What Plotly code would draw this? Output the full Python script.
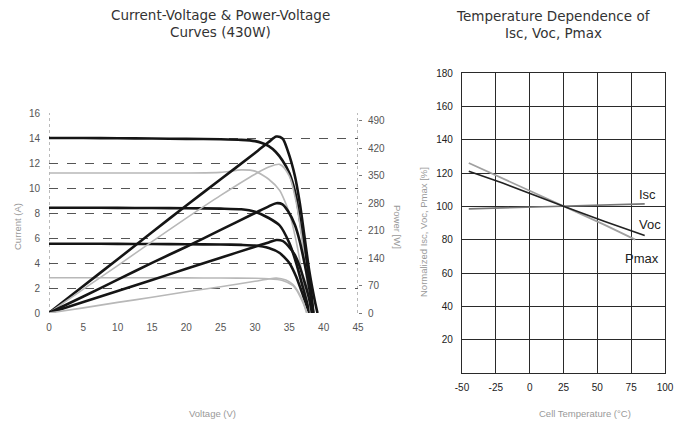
import plotly.graph_objects as go

# ---------------- Left chart: I-V and P-V curves ----------------
# Irradiance levels (W/m2) and colours of the curves
levels = ["1000", "800", "600", "400", "200"]
level_colors = ["#151515", "#b8b8b8", "#151515", "#151515", "#b8b8b8"]

# Current-voltage curves (A)
iv_v_1000 = [0, 5, 10, 15, 20, 25, 28, 30, 31, 32, 33, 34, 35, 36, 36.7, 37.5, 38.2, 38.5]
iv_i_1000 = [14.0, 14.0, 13.98, 13.96, 13.93, 13.9, 13.85, 13.75, 13.6, 13.35, 12.9, 12.2, 11.2, 9.3, 6.9, 4.2, 1.6, 0]
iv_v_800 = [0, 5, 10, 15, 20, 25, 28, 30, 32, 33.6, 35, 36.2, 37.2, 38.0]
iv_i_800 = [11.2, 11.2, 11.2, 11.2, 11.2, 11.25, 11.45, 11.35, 10.7, 9.8, 8.0, 5.2, 2.0, 0]
iv_v_600 = [0, 5, 10, 15, 20, 25, 28, 30, 32, 33.6, 35, 36, 37, 37.7, 38.2]
iv_i_600 = [8.42, 8.42, 8.41, 8.4, 8.38, 8.35, 8.3, 8.1, 7.6, 7.0, 5.6, 4.0, 2.0, 0.6, 0]
iv_v_400 = [0, 5, 10, 15, 20, 25, 28, 30, 32, 33.6, 35, 36, 37, 37.9]
iv_i_400 = [5.54, 5.54, 5.53, 5.52, 5.5, 5.48, 5.45, 5.4, 5.2, 4.8, 4.0, 2.9, 1.4, 0]
iv_v_200 = [0, 5, 10, 15, 20, 25, 30, 32, 34, 35.5, 36.3, 37, 37.6]
iv_i_200 = [2.82, 2.82, 2.82, 2.82, 2.81, 2.8, 2.78, 2.74, 2.6, 2.2, 1.6, 0.8, 0]

# Power-voltage curves (W)
pv_v_1000 = [0, 5, 10, 15, 20, 25, 30, 32, 33.1, 34, 34.8, 35.8, 36.5, 37.2, 37.9, 38.7, 39.1]
pv_p_1000 = [0, 69, 137, 206, 274, 341, 408, 436, 450, 445, 412, 350, 283, 196, 108, 32, 0]
pv_v_800 = [0, 5, 10, 15, 20, 25, 30, 32, 33.6, 35, 36, 37, 37.7, 38.1]
pv_p_800 = [0, 61, 121, 182, 242, 300, 354, 372, 379, 349, 282, 166, 57, 0]
pv_v_600 = [0, 5, 10, 15, 20, 25, 30, 32, 33.1, 34, 34.8, 35.8, 36.5, 37.2, 37.9, 38.5]
pv_p_600 = [0, 42, 85, 128, 169, 212, 255, 272, 280, 277, 260, 225, 184, 128, 64, 0]
pv_v_400 = [0, 5, 10, 15, 20, 25, 30, 32, 33.1, 34, 34.8, 35.8, 36.5, 37.2, 37.9, 38.3]
pv_p_400 = [0, 28, 56, 84, 113, 141, 169, 180, 186, 184, 172, 148, 119, 80, 35, 0]
pv_v_200 = [0, 5, 10, 15, 20, 25, 30, 32, 33.1, 34.5, 35.5, 36.3, 37, 37.5]
pv_p_200 = [0, 13, 27, 40, 54, 67, 81, 87, 89, 84, 73, 54, 29, 0]

current_ticks = [0, 2, 4, 6, 8, 10, 12, 14, 16]
power_ticks = [0, 70, 140, 210, 280, 350, 420, 490]
voltage_ticks = [0, 5, 10, 15, 20, 25, 30, 35, 40, 45]

# ---------------- Right chart: temperature dependence ----------------
temp_isc = [-45, 25, 85]
val_isc = [98.5, 100, 101.5]
temp_voc = [-45, -20, 25, 55, 85]
val_voc = [121, 114, 100, 91, 82.5]
temp_pmax = [-45, -30, 25, 55, 78]
val_pmax = [126, 120.5, 100, 89, 80]
temp_ticks = [-50, -25, 0, 25, 50, 75, 100]
temp_tick_text = ["-50", "-25", "0", "25", "50", "75", "100"]
norm_ticks = [20, 40, 60, 80, 100, 120, 140, 160, 180]

fig = go.Figure()

iv_sets = [(iv_v_1000, iv_i_1000), (iv_v_800, iv_i_800), (iv_v_600, iv_i_600),
           (iv_v_400, iv_i_400), (iv_v_200, iv_i_200)]
pv_sets = [(pv_v_1000, pv_p_1000), (pv_v_800, pv_p_800), (pv_v_600, pv_p_600),
           (pv_v_400, pv_p_400), (pv_v_200, pv_p_200)]

for lvl, col, (vv, ii) in zip(levels, level_colors, iv_sets):
    w = 2.6 if col == "#151515" else 1.6
    fig.add_trace(go.Scatter(x=vv, y=ii, mode="lines", line=dict(color=col, width=w, shape="spline", smoothing=0.6),
                             xaxis="x", yaxis="y", name="I-V " + lvl, showlegend=False))
for lvl, col, (vv, pp) in zip(levels, level_colors, pv_sets):
    w = 2.6 if col == "#151515" else 1.6
    fig.add_trace(go.Scatter(x=vv, y=pp, mode="lines", line=dict(color=col, width=w, shape="spline", smoothing=0.8),
                             xaxis="x", yaxis="y2", name="P-V " + lvl, showlegend=False))

fig.add_trace(go.Scatter(x=temp_pmax, y=val_pmax, mode="lines", line=dict(color="#a0a0a0", width=1.8),
                         xaxis="x2", yaxis="y3", name="Pmax", showlegend=False))
fig.add_trace(go.Scatter(x=temp_isc, y=val_isc, mode="lines", line=dict(color="#777777", width=1.6),
                         xaxis="x2", yaxis="y3", name="Isc", showlegend=False))
fig.add_trace(go.Scatter(x=temp_voc, y=val_voc, mode="lines", line=dict(color="#222222", width=1.6),
                         xaxis="x2", yaxis="y3", name="Voc", showlegend=False))

# the page body adds an 8 px margin; the figure is sized to fill the 683x429 window
OFF = 8
W, H = 683 - OFF, 429 - OFF
def px(x):
    return (x - OFF) / W
def py(y):
    return 1 - (y - OFF) / H

tick_font = dict(family="Liberation Sans", size=10, color="#555555")
tick_font_r = dict(family="Liberation Sans Narrow, Liberation Sans", size=10, color="#222222")

fig.update_layout(
    width=W, height=H,
    margin=dict(l=0, r=0, t=0, b=0, pad=0, autoexpand=False),
    paper_bgcolor="white", plot_bgcolor="white",
    showlegend=False,
    xaxis=dict(domain=[px(49), px(358)], range=[0, 45], tickvals=voltage_ticks,
               showgrid=False, zeroline=False, showline=False, ticks="", automargin=False,
               tickfont=tick_font, ticklabelstandoff=7, anchor="y"),
    yaxis=dict(domain=[py(313), py(113)], range=[0, 16], tickvals=current_ticks,
               showgrid=True, gridcolor="#555555", gridwidth=1, griddash="dash",
               zeroline=False, showline=False, ticks="", tickfont=tick_font, automargin=False,
               ticklabelstandoff=8, anchor="x"),
    yaxis2=dict(overlaying="y", side="right", range=[0, 510], tickvals=power_ticks,
                showgrid=False, zeroline=False, showline=False, ticks="outside", automargin=False,
                ticklen=3, tickcolor="#777777", tickfont=tick_font, anchor="x",
                ticklabelstandoff=4),
    xaxis2=dict(domain=[px(462), px(665)], range=[-50, 100], tickvals=temp_ticks,
                ticktext=temp_tick_text,
                showgrid=True, gridcolor="#2a2a2a", gridwidth=1.2, automargin=False,
                zeroline=False, showline=True, mirror=True, linecolor="#2a2a2a", linewidth=1.2,
                ticks="", tickfont=tick_font_r, ticklabelstandoff=5, anchor="y3"),
    yaxis3=dict(domain=[py(373), py(73)], range=[0, 180], tickvals=norm_ticks,
                showgrid=True, gridcolor="#2a2a2a", gridwidth=1.2, automargin=False,
                zeroline=False, showline=True, mirror=True, linecolor="#2a2a2a", linewidth=1.2,
                ticks="", tickfont=tick_font_r, ticklabelstandoff=6, anchor="x2"),
)

# dotted frame edges of the left chart
for xv in [0, 45]:
    fig.add_shape(type="line", xref="x", yref="y", x0=xv, x1=xv, y0=0, y1=16,
                  line=dict(color="#777777", width=1, dash="dot"), layer="below")

title_font = dict(family="DejaVu Sans", size=13.5, color="#333333")
label_font = dict(family="Liberation Sans", size=9.5, color="#999999")

titles = [("Current-Voltage & Power-Voltage", 221, 15), ("Curves (430W)", 221, 32),
          ("Temperature Dependence of", 553, 16), ("Isc, Voc, Pmax", 553, 33)]
for txt, tx, ty in titles:
    fig.add_annotation(text=txt, xref="paper", yref="paper", x=px(tx), y=py(ty),
                       xanchor="center", yanchor="middle", showarrow=False,
                       font=title_font, borderpad=0)

fig.add_annotation(text="Current (A)", xref="paper", yref="paper", x=px(18), y=py(227),
                   xanchor="center", yanchor="middle",
                   textangle=-90, showarrow=False, font=label_font)
fig.add_annotation(text="Power [W]", xref="paper", yref="paper", x=px(397), y=py(227),
                   xanchor="center", yanchor="middle",
                   textangle=90, showarrow=False, font=label_font)
fig.add_annotation(text="Voltage (V)", xref="paper", yref="paper", x=px(212), y=py(413),
                   xanchor="center", yanchor="middle",
                   showarrow=False, font=label_font)
fig.add_annotation(text="Normalized Isc, Voc, Pmax [%]", xref="paper", yref="paper", x=px(423), y=py(232),
                   xanchor="center", yanchor="middle",
                   textangle=-90, showarrow=False, font=label_font)
fig.add_annotation(text="Cell Temperature (°C)", xref="paper", yref="paper", x=px(585), y=py(413),
                   xanchor="center", yanchor="middle",
                   showarrow=False, font=label_font)

curve_font = dict(family="Liberation Sans", size=13, color="#222222")
fig.add_annotation(text="Isc", xref="x2", yref="y3", x=87, y=107, showarrow=False, font=curve_font)
fig.add_annotation(text="Voc", xref="x2", yref="y3", x=89, y=89, showarrow=False, font=curve_font)
fig.add_annotation(text="Pmax", xref="x2", yref="y3", x=83, y=69, showarrow=False, font=curve_font)

fig.write_html("out.html")
